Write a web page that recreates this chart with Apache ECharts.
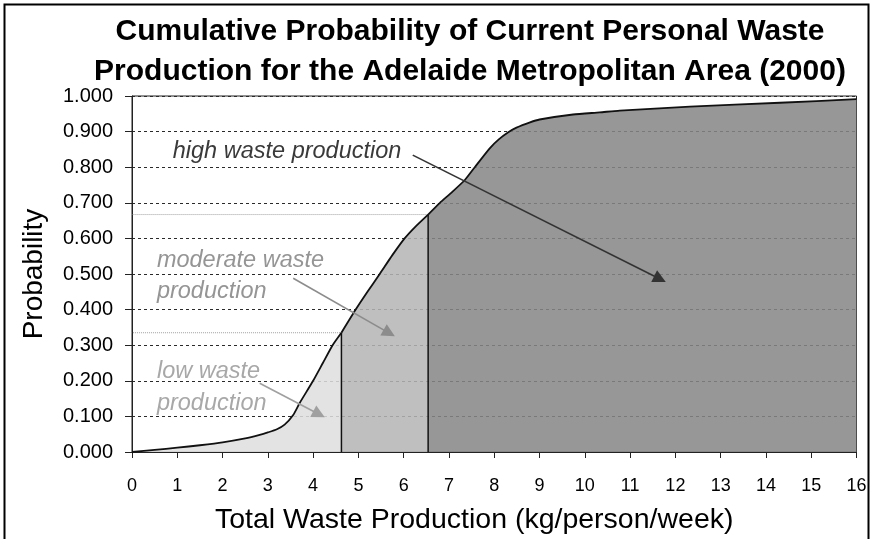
<!DOCTYPE html>
<html><head><meta charset="utf-8">
<script src="https://cdn.jsdelivr.net/npm/echarts@6/dist/echarts.min.js"></script>
<style>html,body{margin:0;padding:0;background:#fff}#c{width:870px;height:539px}</style>
</head><body><div id="c"></div>
<script>
// ---- data ----
const curveX = [0, 0.5, 1, 1.5, 2, 2.5, 2.82, 3, 3.2, 3.37, 3.56, 3.7, 4.0, 4.215, 4.43, 4.625, 4.94, 5.2, 5.47, 5.75, 6.02, 6.25, 6.54, 6.8, 7.05, 7.35, 7.57, 7.9, 8.1, 8.31, 8.49, 8.79, 9.0, 9.74, 10.33, 10.77, 12.32, 14.31, 16];
const curveY = [0, 0.006, 0.012, 0.019, 0.027, 0.038, 0.048, 0.055, 0.064, 0.077, 0.104, 0.137, 0.2, 0.25, 0.3, 0.335, 0.4, 0.45, 0.5, 0.553, 0.6, 0.632, 0.667, 0.7, 0.728, 0.764, 0.8, 0.853, 0.878, 0.898, 0.911, 0.926, 0.934, 0.948, 0.954, 0.959, 0.970, 0.981, 0.991];
const lowLimitX = 4.625, lowLimitY = 0.335;
const modLimitX = 6.54, modLimitY = 0.667;
const xTicks = [0,1,2,3,4,5,6,7,8,9,10,11,12,13,14,15,16];
const yTicks = [0,0.1,0.2,0.3,0.4,0.5,0.6,0.7,0.8,0.9,1.0];
const titleLines = ['Cumulative Probability of Current Personal Waste', 'Production for the Adelaide Metropolitan Area (2000)'];
const xName = 'Total Waste Production (kg/person/week)';
const yName = 'Probability';
const labelLines = [
  {text: 'high waste production', x: 0.9, y: 0.843, color: '#3a3a3a'},
  {text: 'moderate waste', x: 0.55, y: 0.539, color: '#959595'},
  {text: 'production', x: 0.55, y: 0.45, color: '#959595'},
  {text: 'low waste', x: 0.55, y: 0.225, color: '#a8a8a8'},
  {text: 'production', x: 0.55, y: 0.137, color: '#a8a8a8'}
];
const arrows = [
  {from: [6.2, 0.834], to: [11.66, 0.486], color: '#333333'},
  {from: [3.56, 0.488], to: [5.68, 0.334], color: '#8c8c8c'},
  {from: [2.82, 0.193], to: [4.13, 0.106], color: '#a0a0a0'}
];

// ---- build ----
const pts = curveX.map((x, i) => [x, curveY[i]]);
const lowPts = pts.filter(p => p[0] <= lowLimitX);
const modPts = pts.filter(p => p[0] >= lowLimitX && p[0] <= modLimitX);
const highPts = pts.filter(p => p[0] >= modLimitX);
const FONT = "'Liberation Sans', Arial, sans-serif";

function areaSeries(data, fill) {
  return {type: 'line', data, smooth: 0.2, symbol: 'none', z: 3,
    lineStyle: {color: '#111', width: 1.8, join: 'round'},
    areaStyle: {color: fill, opacity: 1}};
}
function plainLine(data, color, type, width, z) {
  return {type: 'line', data, symbol: 'none', clip: false, z: z || 4,
    lineStyle: {color, type: type || 'solid', width: width || 1}, silent: true};
}

const chart = echarts.init(document.getElementById('c'), null, {renderer: 'canvas'});
const option = {
  animation: false,
  backgroundColor: '#fff',
  title: {
    text: titleLines.join('\n'), left: 465, textAlign: 'center', top: 7,
    textStyle: {fontFamily: FONT, fontWeight: 'bold', fontSize: 30, lineHeight: 40, color: '#000'}
  },
  grid: {left: 132, right: 13.5, top: 96, bottom: 87, show: true, borderColor: '#222', borderWidth: 1,
         containLabel: false, outerBoundsMode: 'none'},
  xAxis: {
    type: 'value', min: xTicks[0], max: xTicks[xTicks.length - 1], interval: 1,
    name: xName, nameLocation: 'middle', nameGap: 54,
    nameTextStyle: {fontFamily: FONT, fontSize: 28.5, color: '#000', padding: [0, 40, 0, 0]},
    axisLine: {show: true, lineStyle: {color: '#222', width: 1}},
    axisTick: {show: true, length: 6, lineStyle: {color: '#222'}},
    axisLabel: {fontFamily: FONT, fontSize: 18, color: '#000', margin: 25},
    splitLine: {show: false}
  },
  yAxis: {
    type: 'value', min: yTicks[0], max: yTicks[yTicks.length - 1], interval: 0.1,
    name: yName, nameLocation: 'middle', nameGap: 84,
    nameTextStyle: {fontFamily: FONT, fontSize: 28, color: '#000'},
    axisLine: {show: true, lineStyle: {color: '#222', width: 1}},
    axisTick: {show: true, length: 7, lineStyle: {color: '#222'}},
    axisLabel: {fontFamily: FONT, fontSize: 20, color: '#000', margin: 19, formatter: v => v.toFixed(3)},
    splitLine: {show: true, lineStyle: {color: '#2a2a2a', type: [3, 3], width: 1}}
  },
  series: [
    areaSeries(lowPts, 'rgba(222,222,222,0.86)'),
    areaSeries(modPts, 'rgba(180,180,180,0.86)'),
    areaSeries(highPts, 'rgba(134,134,134,0.86)'),
    plainLine([[-0.2, lowLimitY], [lowLimitX, lowLimitY]], '#a0a0a0', [1, 1], 1, 1),
    plainLine([[-0.12, modLimitY], [modLimitX, modLimitY]], '#a0a0a0', [1, 1], 1, 1),
    plainLine([[lowLimitX, 0], [lowLimitX, lowLimitY]], '#111', 'solid', 1.5, 5),
    plainLine([[modLimitX, 0], [modLimitX, modLimitY]], '#111', 'solid', 1.5, 5),
    {
      type: 'line', data: [], z: 6, silent: true,
      markLine: {
        silent: true, animation: false, symbol: ['none', 'triangle'], symbolSize: 13,
        label: {show: false},
        data: arrows.map(a => [
          {coord: a.from, symbol: 'none', lineStyle: {color: a.color, width: 1.6, type: 'solid'}, itemStyle: {color: a.color}},
          {coord: a.to, symbol: 'triangle', symbolSize: 13, itemStyle: {color: a.color}}
        ])
      }
    }
  ]
};
chart.setOption(option);

const g = [{
  type: 'rect', left: 2, top: 2, z: 100, silent: true,
  shape: {width: 864, height: 560},
  style: {fill: 'none', stroke: '#000', lineWidth: 2}
}];
labelLines.forEach(l => {
  const p = chart.convertToPixel({gridIndex: 0}, [l.x, l.y]);
  g.push({type: 'text', x: p[0], y: p[1], z: 50, silent: true,
    style: {text: l.text, fill: l.color, font: "italic 23.5px " + FONT, textVerticalAlign: 'middle', textAlign: 'left'}});
});
chart.setOption({graphic: g});
</script>
</body></html>
